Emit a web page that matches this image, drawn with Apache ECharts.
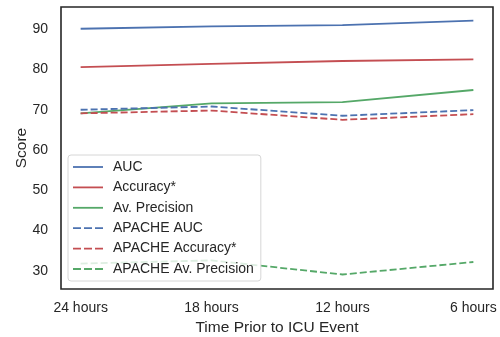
<!DOCTYPE html>
<html>
<head>
<meta charset="utf-8">
<script src="https://cdn.jsdelivr.net/npm/echarts@6/dist/echarts.min.js"></script>
<style>
  html, body { margin: 0; padding: 0; background: #fff; }
  #chart { width: 500px; height: 337px; }
</style>
</head>
<body>
<div id="chart"></div>
<script>
// data
const timeLabels = ["24 hours", "18 hours", "12 hours", "6 hours"];
const auc = [90.1, 90.7, 91.0, 92.1];
const accuracy = [80.6, 81.4, 82.1, 82.5];
const avPrecision = [69.1, 71.6, 71.9, 74.9];
const apacheAuc = [70.0, 70.8, 68.5, 69.9];
const apacheAccuracy = [69.1, 69.8, 67.5, 68.9];
const apacheAvPrecision = [31.8, 32.6, 29.1, 32.2];
const yTicks = [30, 40, 50, 60, 70, 80, 90];

document.addEventListener("DOMContentLoaded", function () {
    let chart = echarts.init(document.getElementById("chart"));
    const font = "Liberation Sans, Arial, sans-serif";
    const blue = "#4c72b0", red = "#c44e52", green = "#55a868";

    // legend handles: a plain bar or three dashes
    const solidIcon = "path://M0,0h30v1.8h-30z";
    const dashIcon = "path://M0,0h8v1.8h-8zM11,0h8v1.8h-8zM22,0h8v1.8h-8z";

    function mk(name, values, color, dashed) {
        return {
            name: name,
            type: "line",
            symbol: "none",
            data: values.map((v, i) => [i, v]),
            lineStyle: { color: color, width: 1.8, type: dashed ? [7, 3] : "solid" },
            itemStyle: { color: color },
            z: 2
        };
    }

    const names = ["AUC", "Accuracy*", "Av. Precision", "APACHE AUC", "APACHE Accuracy*", "APACHE Av. Precision"];

    let option = {
        animation: false,
        backgroundColor: "#fff",
        textStyle: { fontFamily: font },
        grid: {
            left: 61, right: 7, top: 7, bottom: 48,
            outerBoundsMode: "none",
            containLabel: false,
            show: true,
            borderColor: "#262626",
            borderWidth: 1.6
        },
        legend: {
            orient: "vertical",
            left: 68,
            top: 155,
            itemWidth: 30,
            itemHeight: 14,
            itemGap: 6.4,
            padding: [5, 7, 5, 5],
            backgroundColor: "rgba(255,255,255,0.8)",
            borderColor: "#d6d6d6",
            borderWidth: 1,
            borderRadius: 3,
            textStyle: { fontSize: 14, color: "#262626", fontFamily: font, padding: [0, 0, 0, 5] },
            data: names.map((n, i) => ({ name: n, icon: i < 3 ? solidIcon : dashIcon })),
            z: 5
        },
        xAxis: {
            type: "value",
            min: -0.15,
            max: 3.15,
            name: "Time Prior to ICU Event",
            nameLocation: "middle",
            nameGap: 29,
            nameTextStyle: { fontSize: 15.5, color: "#262626", fontFamily: font },
            axisLine: { show: false },
            axisTick: { show: false },
            splitLine: { show: false },
            axisLabel: {
                customValues: [0, 1, 2, 3],
                formatter: v => timeLabels[Math.round(v)],
                fontSize: 14,
                color: "#262626",
                margin: 12
            }
        },
        yAxis: {
            type: "value",
            min: 25.5,
            max: 95.5,
            name: "Score",
            nameLocation: "middle",
            nameGap: 31,
            nameMoveOverlap: false,
            nameTextStyle: { fontSize: 15.5, color: "#262626", fontFamily: font },
            axisLine: { show: false },
            axisTick: { show: false },
            splitLine: { show: false },
            axisLabel: {
                customValues: yTicks,
                fontSize: 14,
                color: "#262626",
                margin: 13
            }
        },
        series: [
            mk(names[0], auc, blue, false),
            mk(names[1], accuracy, red, false),
            mk(names[2], avPrecision, green, false),
            mk(names[3], apacheAuc, blue, true),
            mk(names[4], apacheAccuracy, red, true),
            mk(names[5], apacheAvPrecision, green, true)
        ]
    };
    chart.setOption(option);
});
</script>
</body>
</html>
